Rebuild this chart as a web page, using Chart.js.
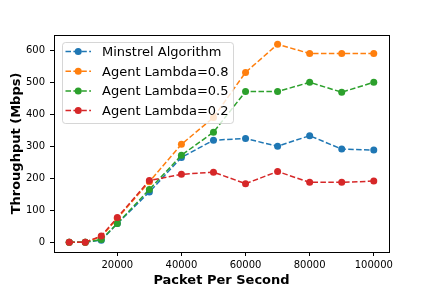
<!DOCTYPE html>
<html>
<head>
<meta charset="utf-8">
<script src="https://cdn.jsdelivr.net/npm/chart.js@4"></script>
<style>
  html, body { margin: 0; padding: 0; background: #fff; }
  #wrap { width: 432px; height: 288px; }
</style>
</head>
<body>
<div id="wrap"><canvas id="chart" width="432" height="288"></canvas></div>
<script>
// packets per second (x values)
const pps = [5000, 10000, 15000, 20000, 30000, 40000, 50000, 60000, 70000, 80000, 90000, 100000];

// throughput in Mbps per algorithm
const minstrel = [0, 0, 6, 58, 157, 265, 319, 324, 300, 333, 291, 288];
const lambda08 = [0, 0, 17, 74, 189, 306, 390, 531, 619, 590, 590, 590];
const lambda05 = [0, 0, 8, 58, 165, 272, 344, 471, 471, 500, 469, 500];
const lambda02 = [0, 0, 19, 77, 193, 212, 219, 183, 221, 187, 187, 191];

const seriesNames = ['Minstrel Algorithm', 'Agent Lambda=0.8', 'Agent Lambda=0.5', 'Agent Lambda=0.2'];
const seriesColors = ['#1f77b4', '#ff7f0e', '#2ca02c', '#d62728'];

const xTicks = [20000, 40000, 60000, 80000, 100000];
const yTicks = [0, 100, 200, 300, 400, 500, 600];

const FONT = 'DejaVu Sans';

function toPoints(ys) {
  return ys.map((y, i) => ({ x: pps[i], y: y }));
}

const allSeries = [minstrel, lambda08, lambda05, lambda02];
const datasets = allSeries.map((ys, i) => ({
  label: seriesNames[i],
  data: toPoints(ys),
  borderColor: seriesColors[i],
  backgroundColor: seriesColors[i],
  borderWidth: 1.5,
  borderDash: [5.5, 2.4],
  pointRadius: 3.5,
  pointBorderWidth: 0,
  pointBackgroundColor: seriesColors[i],
  tension: 0,
  order: allSeries.length - i, // later series drawn on top, like matplotlib
}));

// box around the plot + legend in the upper-left corner
const framePlugin = {
  id: 'frame',
  afterDatasetsDraw(chart) {
    const ctx = chart.ctx;
    const a = chart.chartArea;
    ctx.save();
    ctx.strokeStyle = '#000';
    ctx.lineWidth = 1;
    ctx.strokeRect(Math.round(a.left) + 0.5, Math.round(a.top) + 0.5,
      Math.round(a.right - a.left), Math.round(a.bottom - a.top));

    // legend
    const bx = a.left + 8, by = a.top + 7, bw = 171, bh = 81;
    ctx.beginPath();
    ctx.roundRect(bx + 0.5, by + 0.5, bw, bh, 3);
    ctx.fillStyle = 'rgba(255,255,255,0.8)';
    ctx.fill();
    ctx.strokeStyle = 'rgba(204,204,204,0.8)';
    ctx.stroke();

    ctx.font = '13px "' + FONT + '"';
    ctx.textBaseline = 'middle';
    ctx.textAlign = 'left';
    chart.data.datasets.forEach((ds, i) => {
      const y = by + 9.5 + i * 19.7;
      ctx.strokeStyle = ds.borderColor;
      ctx.lineWidth = 1.5;
      ctx.setLineDash([5.5, 2.4]);
      ctx.beginPath();
      ctx.moveTo(bx + 3.5, y);
      ctx.lineTo(bx + 29, y);
      ctx.stroke();
      ctx.setLineDash([]);
      ctx.fillStyle = ds.borderColor;
      ctx.beginPath();
      ctx.arc(bx + 16.2, y, 3.5, 0, Math.PI * 2);
      ctx.fill();
      ctx.fillStyle = '#000';
      ctx.fillText(ds.label, bx + 40, y + 1);
    });
    ctx.restore();
  }
};

new Chart(document.getElementById('chart'), {
  type: 'line',
  data: { datasets: datasets },
  options: {
    responsive: false,
    animation: false,
    events: [],
    layout: { padding: { left: 0, top: 35, right: 43, bottom: 0 } },
    plugins: {
      legend: { display: false },
      tooltip: { enabled: false },
    },
    scales: {
      x: {
        type: 'linear',
        min: 250,
        max: 104750,
        afterBuildTicks: (scale) => { scale.ticks = xTicks.map(v => ({ value: v })); },
        afterFit: (scale) => { scale.height = 36; },
        ticks: {
          color: '#000',
          padding: 3,
          maxRotation: 0,
          font: { family: FONT, size: 10 },
          callback: (v) => String(v),
        },
        grid: { drawOnChartArea: false, drawTicks: true, tickLength: 4, color: '#000' },
        border: { display: true, color: '#000' },
        title: {
          display: true,
          text: 'Packet Per Second',
          color: '#000',
          padding: { top: 3, bottom: 0 },
          font: { family: FONT, size: 13, weight: 'bold', lineHeight: 1.2 },
        },
      },
      y: {
        type: 'linear',
        min: -30.85,
        max: 648,
        afterBuildTicks: (scale) => { scale.ticks = yTicks.map(v => ({ value: v })); },
        afterFit: (scale) => { scale.width = 54; },
        ticks: {
          color: '#000',
          padding: 5,
          font: { family: FONT, size: 10 },
          callback: (v) => String(v),
        },
        grid: { drawOnChartArea: false, drawTicks: true, tickLength: 4, color: '#000' },
        border: { display: true, color: '#000' },
        title: {
          display: true,
          text: 'Throughput (Mbps)',
          color: '#000',
          padding: { top: 9, bottom: 0 },
          font: { family: FONT, size: 13, weight: 'bold', lineHeight: 1.2 },
        },
      },
    },
  },
  plugins: [framePlugin],
});
</script>
</body>
</html>
